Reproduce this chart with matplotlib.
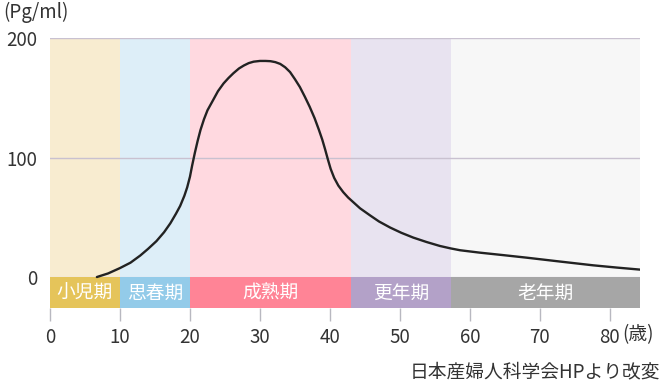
import matplotlib
matplotlib.use("Agg")
import matplotlib.pyplot as plt

plt.rcParams['font.family'] = ['Noto Sans CJK JP', 'DejaVu Sans']

# Life stages
stage_names = ["小児期", "思春期", "成熟期", "更年期", "老年期"]
stage_edges = [0, 10, 20, 43, 57.3, 84.3]
stage_bg = ["#f8ecd0", "#ddeef8", "#ffd9e0", "#e8e3f0", "#f7f7f7"]
stage_bar = ["#e5c45a", "#93cbe9", "#ff8496", "#b3a1c8", "#a6a6a6"]

# Estrogen curve (Pg/ml) by age
ages = [6.7, 8.3, 10, 11.5, 12.9, 14.0, 15.2, 16.3, 17.2, 18.0, 18.6, 19.2, 19.6,
        20.0, 20.3, 20.7, 21.1, 21.5, 22.0, 22.5, 23.3, 24.0, 24.8, 25.5, 26.2,
        27.0, 27.7, 28.4, 29.1, 30.0, 30.8, 31.5, 32.2, 32.9, 33.6, 34.3, 35.0,
        35.7, 36.4, 37.1, 37.8, 38.4, 38.9, 39.3, 39.7, 40.1, 40.6, 41.2, 41.9,
        42.6, 43.3, 44.3, 45.7, 47.0, 48.6, 50.2, 51.9, 53.8, 55.7, 57.2, 58.6,
        61.4, 64.8, 68.1, 72.8, 77.6, 81.0, 84.3]
values = [0, 3, 7.5, 12, 18, 23.5, 30, 37.5, 45, 53, 59.5, 68, 75,
          84, 93, 104, 114, 123, 132, 139.5, 148, 155.5, 162, 166.5, 170.5,
          174.5, 177, 179, 180.2, 180.8, 180.8, 180.6, 179.8, 178.3, 175.5, 171.5, 165.5,
          159, 151, 142.5, 133, 123.5, 115, 107, 98.5, 90.5, 83, 76.5, 71,
          66.5, 62.8, 57.5, 51.7, 46.5, 41.4, 37, 33, 29.3, 26, 24, 22.4,
          20.4, 18.3, 16.2, 13, 9.8, 7.9, 6.2]

xticks = [0, 10, 20, 30, 40, 50, 60, 70, 80]
yticks = [0, 100, 200]

W, H = 670, 382
fig = plt.figure(figsize=(W / 100, H / 100), dpi=100)
left, right, top, bottom = 50, 640, 38, 307.5
ax = fig.add_axes([left / W, (H - bottom) / H, (right - left) / W, (bottom - top) / H])
ax.set_xlim(0, stage_edges[-1])
ax.set_ylim(-25.5, 200)

strip_lo, strip_hi = -25.5, 0
for i, name in enumerate(stage_names):
    x0, x1 = stage_edges[i], stage_edges[i + 1]
    ax.axvspan(x0, x1, ymin=0, ymax=1, color=stage_bg[i], lw=0, zorder=0)
    ax.fill_between([x0, x1], strip_lo, strip_hi, color=stage_bar[i], lw=0, zorder=3)
    ax.text((x0 + x1) / 2, (strip_lo + strip_hi) / 2 - 0.5, name, color="white",
            fontsize=13.5, ha="center", va="center", zorder=4)

for yv in [100, 200]:
    ax.axhline(yv, color="#c9c1d0", lw=1.0, zorder=1)
ax.axhline(0, color="#e6e0ea", lw=1.0, zorder=2)

ax.plot(ages, values, color="#222222", lw=1.7, zorder=5,
        solid_capstyle="round", solid_joinstyle="round")

for s in ax.spines.values():
    s.set_visible(False)
ax.set_xticks(xticks)
ax.set_xticklabels([str(t) for t in xticks])
ax.set_yticks(yticks)
ax.set_yticklabels([str(t) for t in yticks])
ax.tick_params(axis="x", length=9, width=1, color="#b8b8c0", pad=5,
               labelsize=13.5, labelcolor="#333333")
ax.tick_params(axis="y", length=0, pad=9, labelsize=13.5, labelcolor="#333333")

fig.text(622 / W, 1 - 335 / H, "(歳)", fontsize=13.5, color="#333333",
         ha="left", va="center")
fig.text(3 / W, 1 - 12 / H, "(Pg/ml)", fontsize=13.5, color="#333333",
         ha="left", va="center")
fig.text(660 / W, 1 - 372 / H, "日本産婦人科学会HPより改変", fontsize=13.5,
         color="#333333", ha="right", va="center")

fig.savefig("out.png", dpi=100)
